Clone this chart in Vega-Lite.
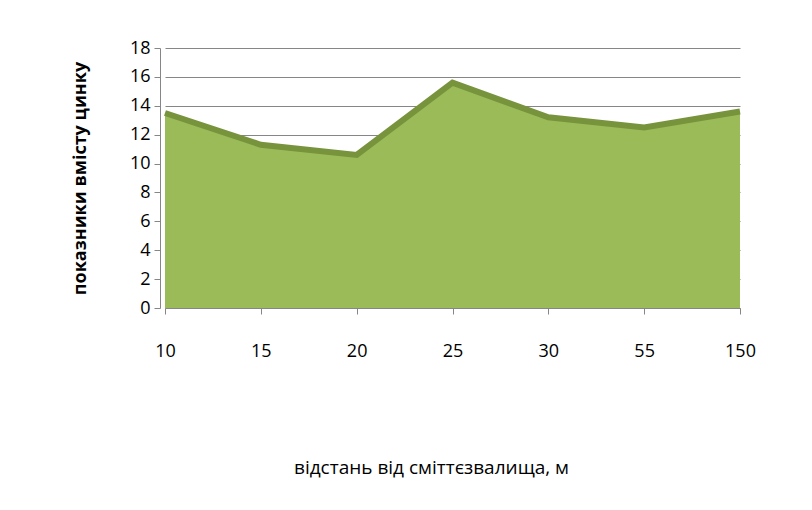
{
  "$schema": "https://vega.github.io/schema/vega-lite/v6.json",
  "width": 575,
  "height": 260,
  "autosize": {"type": "none"},
  "padding": {"left": 165, "top": 48, "right": 72, "bottom": 202},
  "background": "white",
  "config": {
    "view": {"stroke": null},
    "font": "Open Sans"
  },
  "data": {
    "values": [
      {"distance": "10", "zinc": 13.5},
      {"distance": "15", "zinc": 11.3},
      {"distance": "20", "zinc": 10.6},
      {"distance": "25", "zinc": 15.6},
      {"distance": "30", "zinc": 13.2},
      {"distance": "55", "zinc": 12.5},
      {"distance": "150", "zinc": 13.6}
    ]
  },
  "encoding": {
    "x": {
      "field": "distance",
      "type": "ordinal",
      "sort": null,
      "scale": {"type": "point", "padding": 0},
      "axis": {
        "title": "відстань від сміттєзвалища, м",
        "titleFont": "Open Sans",
        "titleFontSize": 19,
        "titleFontWeight": "normal",
        "titleColor": "#000000",
        "titlePadding": 98,
        "titleX": 266,
        "labelAngle": 0,
        "labelFontSize": 18,
        "labelColor": "#000000",
        "labelPadding": 28,
        "domainColor": "#868686",
        "tickColor": "#868686",
        "tickSize": 6,
        "grid": false
      }
    },
    "y": {
      "field": "zinc",
      "type": "quantitative",
      "scale": {"domain": [0, 18], "nice": false},
      "axis": {
        "title": "показники вмісту цинку",
        "titleFont": "Open Sans",
        "titleFontSize": 18,
        "titleFontWeight": "bold",
        "titleColor": "#000000",
        "titlePadding": 40,
        "values": [0, 2, 4, 6, 8, 10, 12, 14, 16, 18],
        "labelFontSize": 18,
        "labelColor": "#000000",
        "labelPadding": 4,
        "offset": 5,
        "domainColor": "#868686",
        "tickColor": "#868686",
        "tickSize": 6,
        "gridColor": "#868686",
        "gridWidth": 1.2
      }
    }
  },
  "layer": [
    {"mark": {"type": "area", "color": "#9BBB59", "opacity": 1}},
    {"mark": {"type": "line", "color": "#77933C", "strokeWidth": 6, "strokeJoin": "miter"}}
  ]
}
